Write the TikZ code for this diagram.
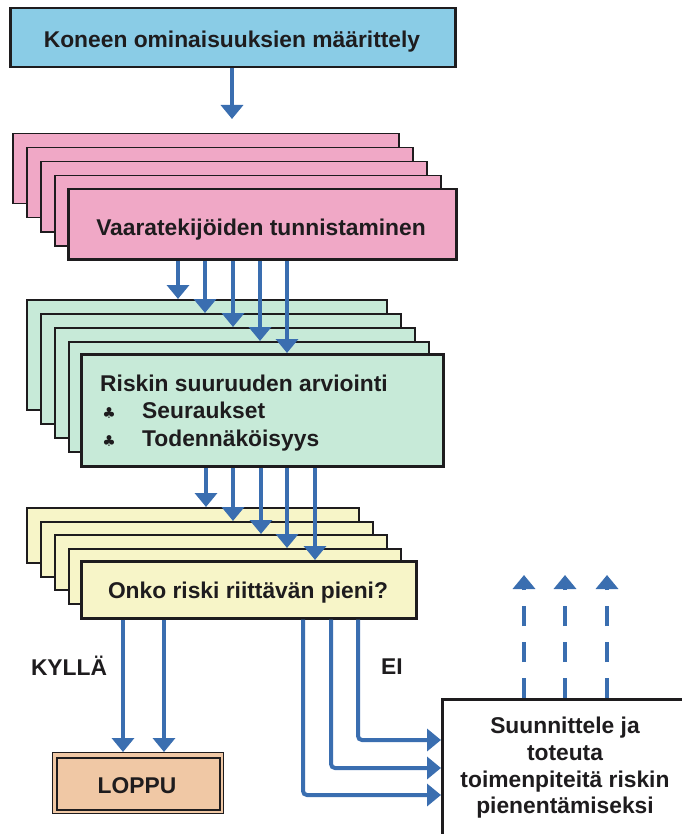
\documentclass[tikz,border=0pt]{standalone}
\usepackage{fontspec}
\setmainfont{Liberation Sans}
\newfontfamily\symfont{DejaVu Sans}
\usetikzlibrary{arrows.meta}
\definecolor{arrowblue}{RGB}{58,110,176}
\definecolor{topc}{RGB}{138,204,230}
\definecolor{pinkc}{RGB}{240,168,198}
\definecolor{greenc}{RGB}{199,234,216}
\definecolor{yellowc}{RGB}{247,245,200}
\definecolor{peachc}{RGB}{240,200,165}
\definecolor{inkc}{RGB}{30,28,30}
\tikzset{
  card/.style={draw=inkc, line width=1.5pt, inner sep=0pt, anchor=north west},
  frontcard/.style={card, line width=2.5pt},
  txt/.style={text=inkc, inner sep=0pt, font=\fontsize{22.8}{26.7}\selectfont\bfseries},
  clubsym/.style={text=inkc, inner sep=0pt, font=\symfont\fontsize{15}{15}\selectfont},
  arr/.style={draw=arrowblue, line width=4pt, -{Triangle[width=22pt,length=14pt,fill=arrowblue]}},
  darr/.style={arr, dash pattern=on 20pt off 16pt},
}
\begin{document}
\begin{tikzpicture}[x=1pt,y=-1pt]
\useasboundingbox (0,0) rectangle (681,834);
\fill[white] (0,0) rectangle (681,834);

% top box
\node[frontcard, fill=topc, minimum width=445pt, minimum height=59pt] (top) at (9,7) {};
\node[txt, anchor=base] (toptxt) at (232,48) {Koneen ominaisuuksien määrittely};

% pink stack
\foreach \i/\x/\y in {1/12/133, 2/26/147, 3/40/161, 4/54/175}
  \node[card, fill=pinkc, minimum width=386pt, minimum height=70pt] (p\i) at (\x,\y) {};
\node[frontcard, fill=pinkc, minimum width=388pt, minimum height=70pt] (p5) at (67,188) {};
\node[txt, anchor=base] (pinktxt) at (261,235) {Vaaratekijöiden tunnistaminen};

% green stack
\foreach \i/\x/\y in {1/26/299, 2/40/313, 3/54/327, 4/68/341}
  \node[card, fill=greenc, minimum width=360pt, minimum height=110pt] (g\i) at (\x,\y) {};
\node[frontcard, fill=greenc, minimum width=362pt, minimum height=112pt] (g5) at (80,353) {};
\node[txt, anchor=base west] (gt1) at (100,391) {Riskin suuruuden arviointi};
\node[clubsym, anchor=base] (club1) at (109,418) {♣};
\node[txt, anchor=base west] (gt2) at (142,418) {Seuraukset};
\node[clubsym, anchor=base] (club2) at (109,446) {♣};
\node[txt, anchor=base west] (gt3) at (142,446) {Todennäköisyys};

% yellow stack
\foreach \i/\x/\y in {1/26/507, 2/40/521, 3/54/534, 4/68/548}
  \node[card, fill=yellowc, minimum width=332pt, minimum height=55pt] (y\i) at (\x,\y) {};
\node[frontcard, fill=yellowc, minimum width=335pt, minimum height=57pt] (y5) at (80,560) {};
\node[txt, anchor=base] (yeltxt) at (248,598) {Onko riski riittävän pieni?};

% LOPPU box
\node[card, line width=1.2pt, fill=peachc, minimum width=171pt, minimum height=61pt] (loppu) at (52,752) {};
\node[card, line width=2pt, minimum width=163pt, minimum height=52pt] (loppuin) at (56,757) {};
\node[txt, anchor=base] (lopputxt) at (137,793) {LOPPU};

% action box
\node[frontcard, fill=white, minimum width=270pt, minimum height=160pt] (bx) at (441,698) {};
\node[txt, anchor=base] (b1) at (565,733) {Suunnittele ja};
\node[txt, anchor=base] (b2) at (565,760) {toteuta};
\node[txt, anchor=base] (b3) at (565,787) {toimenpiteitä riskin};
\node[txt, anchor=base] (b4) at (565,813) {pienentämiseksi};

% labels
\node[txt, anchor=base] (kylla) at (69,675) {KYLLÄ};
\node[txt, anchor=base] (ei) at (392,674) {EI};

% arrows
\coordinate (a0) at (232,0);
\draw[arr, shorten >=14pt] (a0 |- top.south) -- (a0 |- p1.north);

\foreach \i/\x in {1/178, 2/205, 3/233, 4/260, 5/287}{
  \coordinate (pa\i) at (\x,0);
  \draw[arr] (pa\i |- p5.south) -- (pa\i |- g\i.north);
}
\foreach \i/\x in {1/206, 2/233, 3/261, 4/287, 5/315}{
  \coordinate (ga\i) at (\x,0);
  \draw[arr] (ga\i |- g5.south) -- (ga\i |- y\i.north);
}
\foreach \i/\x in {1/123, 2/164}{
  \coordinate (la\i) at (\x,0);
  \draw[arr] (la\i |- y5.south) -- (la\i |- loppu.north);
}
\foreach \i/\x/\y in {1/303/795, 2/331/768, 3/358/740}{
  \coordinate (e\i) at (\x,\y);
  \draw[arr, rounded corners=4pt] (e\i |- y5.south) -- (e\i) -- (e\i -| bx.west);
}
\foreach \i/\x in {1/524, 2/565, 3/607}{
  \coordinate (u\i) at (\x,575);
  \draw[darr] (u\i |- bx.north) -- (u\i);
}
\end{tikzpicture}
\end{document}
